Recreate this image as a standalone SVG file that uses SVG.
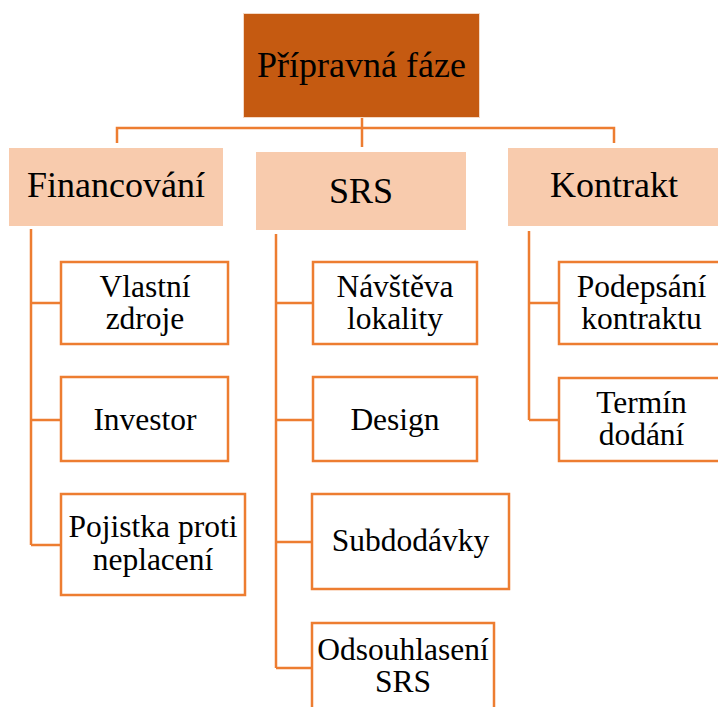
<svg xmlns="http://www.w3.org/2000/svg" width="718" height="707" viewBox="0 0 718 707">
<style>
.top{fill:#C55A11;stroke:#F4D9C6;stroke-width:1}
.mid{fill:#F8CBAD}
.leaf{fill:#FFFFFF;stroke:#ED7D31;stroke-width:2.5}
.con{fill:none;stroke:#ED7D31;stroke-width:2.5}
text{font-family:"Liberation Serif","Times New Roman",serif;fill:#000;text-anchor:middle}
.big{font-size:36px}
.sm{font-size:31.5px}
</style>
<rect width="718" height="707" fill="#FFFFFF"/>
<g id="connectors">
<path class="con" d="M362,118 V147 M117,143 V128 H614 V143"/>
<path class="con" d="M31,229 V545 M31,303 H61 M31,420 H61 M31,545 H61"/>
<path class="con" d="M276,234 V668 M276,303 H313 M276,420 H313 M276,542 H312 M276,668 H312"/>
<path class="con" d="M529,231 V420 M529,303 H559 M529,420 H559"/>
</g>
<g id="n-pripravna">
<rect class="top" x="243.5" y="13.5" width="236" height="104"/>
<text class="big" x="361.5" y="77">Přípravná fáze</text>
</g>
<g id="n-financovani">
<rect class="mid" x="9" y="148" width="214" height="78"/>
<text class="big" x="116" y="197">Financování</text>
</g>
<g id="n-srs">
<rect class="mid" x="256" y="152" width="210" height="78"/>
<text class="big" x="361" y="203">SRS</text>
</g>
<g id="n-kontrakt">
<rect class="mid" x="508" y="148" width="220" height="78"/>
<text class="big" x="614" y="197">Kontrakt</text>
</g>
<g id="n-vlastni">
<rect class="leaf" x="61" y="262" width="167" height="82"/>
<text class="sm" x="145" y="297">Vlastní</text>
<text class="sm" x="145" y="329">zdroje</text>
</g>
<g id="n-investor">
<rect class="leaf" x="61" y="377" width="167" height="84"/>
<text class="sm" x="145" y="430">Investor</text>
</g>
<g id="n-pojistka">
<rect class="leaf" x="61" y="494" width="184" height="101"/>
<text class="sm" x="153" y="537">Pojistka proti</text>
<text class="sm" x="153" y="570">neplacení</text>
</g>
<g id="n-navsteva">
<rect class="leaf" x="313" y="262" width="164" height="82"/>
<text class="sm" x="395" y="297">Návštěva</text>
<text class="sm" x="395" y="329">lokality</text>
</g>
<g id="n-design">
<rect class="leaf" x="313" y="377" width="164" height="84"/>
<text class="sm" x="395" y="430">Design</text>
</g>
<g id="n-subdodavky">
<rect class="leaf" x="312" y="494" width="197" height="95"/>
<text class="sm" x="410.5" y="551">Subdodávky</text>
</g>
<g id="n-odsouhlaseni">
<rect class="leaf" x="312" y="623" width="182" height="100"/>
<text class="sm" x="403" y="660">Odsouhlasení</text>
<text class="sm" x="403" y="692">SRS</text>
</g>
<g id="n-podepsani">
<rect class="leaf" x="559" y="262" width="165" height="82"/>
<text class="sm" x="641.5" y="297">Podepsání</text>
<text class="sm" x="641.5" y="329">kontraktu</text>
</g>
<g id="n-termin">
<rect class="leaf" x="559" y="378" width="165" height="83"/>
<text class="sm" x="641.5" y="413">Termín</text>
<text class="sm" x="641.5" y="445">dodání</text>
</g>
</svg>
